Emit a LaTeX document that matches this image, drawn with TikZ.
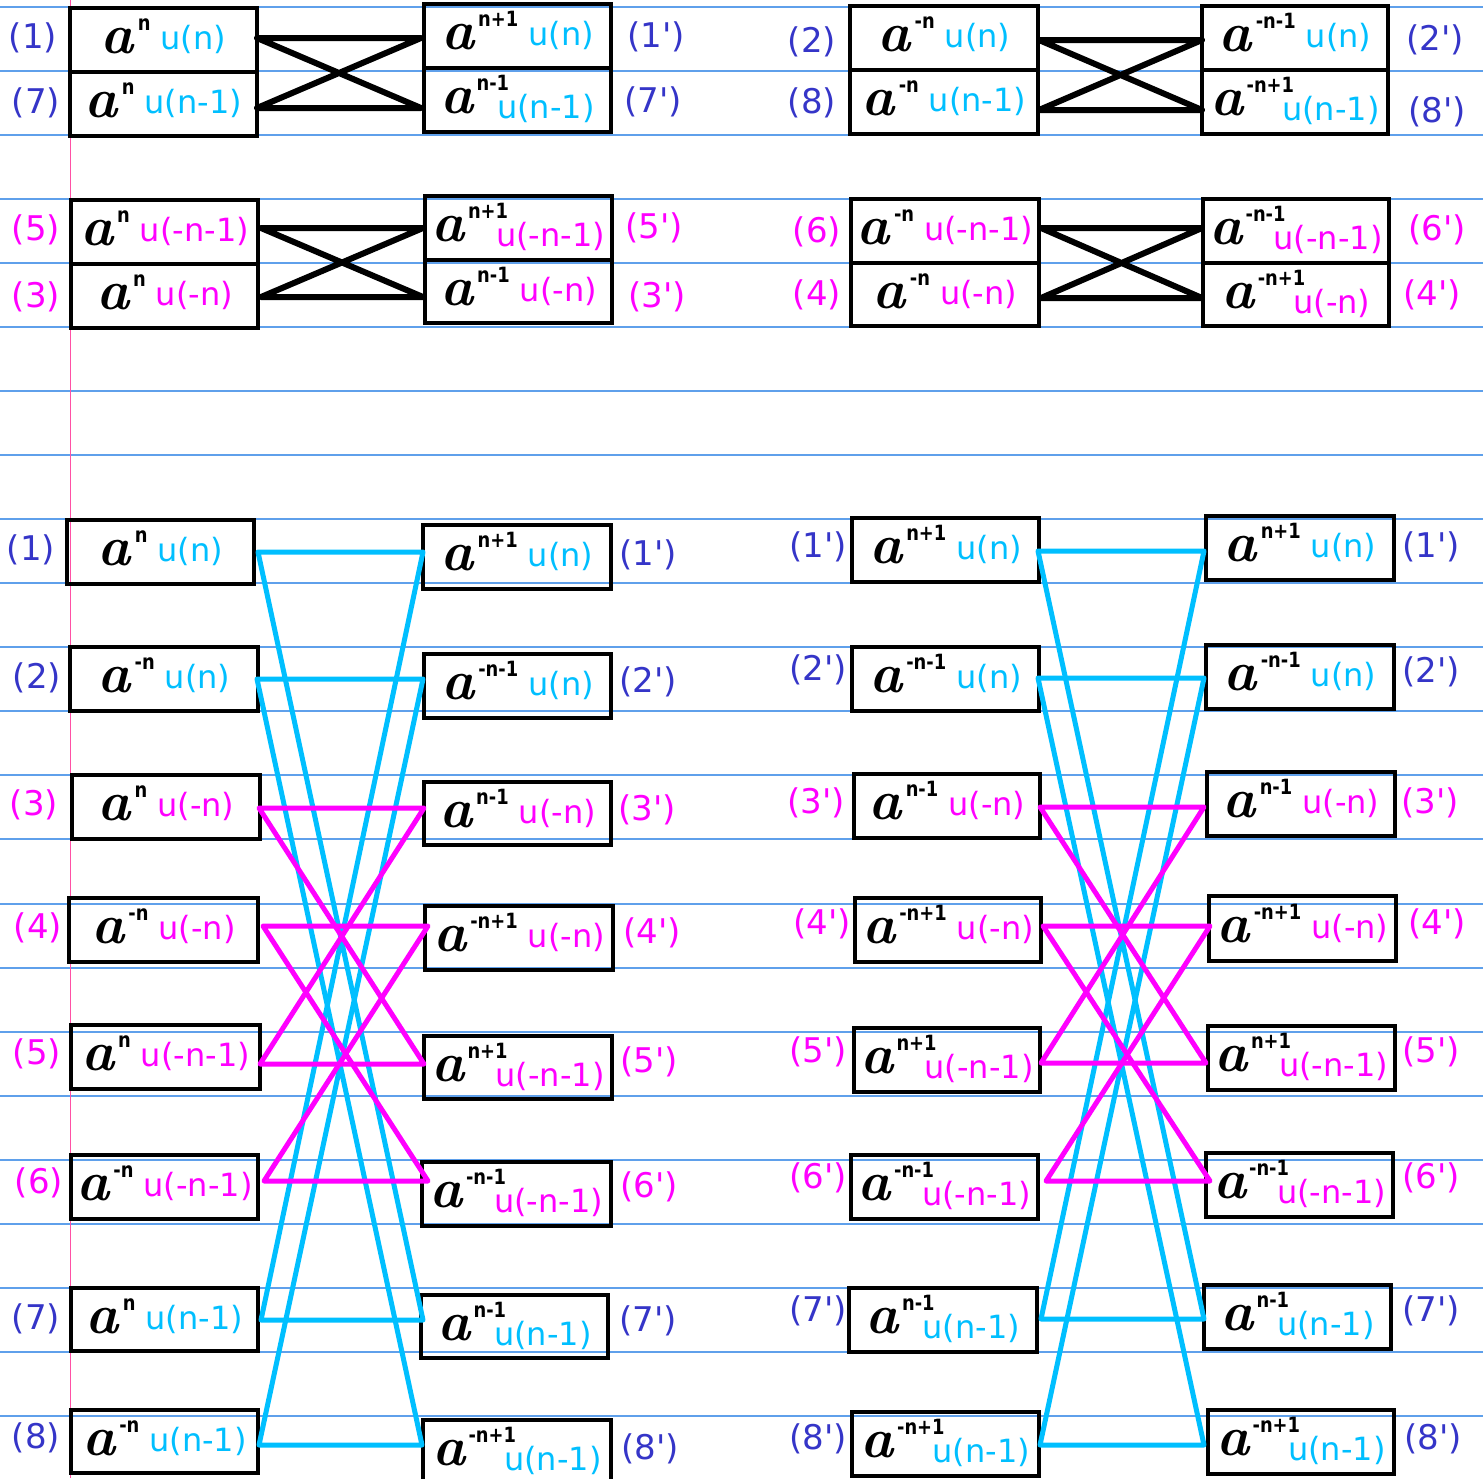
\documentclass[tikz,border=0pt]{standalone}
\usepackage{fontspec}
\newfontfamily\dvs{DejaVu Sans}
\definecolor{lblue}{RGB}{53,53,200}
\definecolor{cyanu}{RGB}{0,191,255}
\definecolor{magu}{RGB}{255,0,255}
\definecolor{paper}{RGB}{95,160,235}
\definecolor{marg}{RGB}{255,80,165}
\newcommand\ahand{{\fontsize{56}{56}\selectfont\bfseries\itshape a}}
\newcommand\supf[1]{{\fontsize{21}{21}\selectfont\dvs\bfseries\scalebox{0.85}[1]{#1}}}
\newcommand\ufont{\fontsize{32}{32}\selectfont\dvs}
\newcommand\ap{\textquotesingle}
\newcommand\cN[3]{\raisebox{0pt}[19pt][0pt]{\raisebox{-4pt}{\ahand}\hspace{4pt}\raisebox{19pt}{\supf{#1}}\hspace{10pt}{\color{#2}\ufont #3}}}
\newcommand\cL[3]{\raisebox{0pt}[19pt][0pt]{\raisebox{-4pt}{\ahand}\hspace{3pt}\raisebox{19pt}{\supf{#1}}\hspace{-12pt}\raisebox{-9pt}{\color{#2}\ufont #3}}}
\tikzset{
  cellbox/.style={draw=black,line width=4pt,inner sep=0pt,outer sep=0pt},
  labn/.style={inner sep=0pt,font=\fontsize{34}{34}\selectfont\dvs},
  paperline/.style={draw=paper,line width=2pt},
  marginline/.style={draw=marg,line width=1.8pt},
  blk/.style={draw=black,line width=6pt,line join=round,line cap=round},
  cyl/.style={draw=cyanu,line width=5pt,line join=round,line cap=round},
  mgl/.style={draw=magu,line width=5pt,line join=round,line cap=round}
}
\newcommand\bx[6]{\node[cellbox,minimum width={(#3-#2)*1pt},minimum height={(#5-#4)*1pt}] (#1) at ({(#2+#3)/2},{(#4+#5)/2}) {#6};}
\newcommand\lb[5]{\node[labn,text=#2] (#1) at (#3,#4) {#5};}
\begin{document}
\begin{tikzpicture}[x=1pt,y=-1pt]
\useasboundingbox (0,0) rectangle (1483,1478);
\fill[white] (0,0) rectangle (1483,1478);
% notebook paper
\foreach \k in {0,...,22} \draw[paperline] (0,{round(6.8+64.05*\k)}) -- (1483,{round(6.8+64.05*\k)});
\draw[marginline] (70.5,0) -- (70.5,1478);

% ---------- top-left block ----------
\bx{TL1}{70}{257}{8}{72}{\cN{n}{cyanu}{u(n)}}
\bx{TL7}{70}{257}{72}{136}{\cN{n}{cyanu}{u(n-1)}}
\bx{TR1}{424}{611}{4}{68}{\cN{n+1}{cyanu}{u(n)}}
\bx{TR7}{424}{611}{68}{132}{\cL{n-1}{cyanu}{u(n-1)}}
\lb{lTL1}{lblue}{33}{38}{(1)}
\lb{lTL7}{lblue}{36}{103}{(7)}
\lb{lTR1}{lblue}{656}{37}{(1\ap)}
\lb{lTR7}{lblue}{653}{102}{(7\ap)}
\coordinate (ta1) at (257,38); \coordinate (tb1) at (421,38);
\coordinate (ta7) at (257,108); \coordinate (tb7) at (421,108);
\draw[blk] (ta1) -- (tb1) -- (ta7) -- (tb7) -- cycle;

% ---------- middle-left block ----------
\bx{ML5}{71}{258}{200}{264}{\cN{n}{magu}{u(-n-1)}}
\bx{ML3}{71}{258}{264}{328}{\cN{n}{magu}{u(-n)}}
\bx{MR5}{425}{612}{196}{260}{\cL{n+1}{magu}{u(-n-1)}}
\bx{MR3}{425}{612}{260}{323}{\cN{n-1}{magu}{u(-n)}}
\lb{lML5}{magu}{36}{230}{(5)}
\lb{lML3}{magu}{36}{297}{(3)}
\lb{lMR5}{magu}{654}{228}{(5\ap)}
\lb{lMR3}{magu}{657}{297}{(3\ap)}
\coordinate (ma5) at (261,228); \coordinate (mb5) at (423,228);
\coordinate (ma3) at (261,297); \coordinate (mb3) at (423,297);
\draw[blk] (ma5) -- (mb5) -- (ma3) -- (mb3) -- cycle;

% ---------- top-right block ----------
\bx{UL2}{850}{1038}{6}{70}{\cN{-n}{cyanu}{u(n)}}
\bx{UL8}{850}{1038}{70}{134}{\cN{-n}{cyanu}{u(n-1)}}
\bx{UR2}{1202}{1388}{6}{70}{\cN{-n-1}{cyanu}{u(n)}}
\bx{UR8}{1202}{1388}{70}{134}{\cL{-n+1}{cyanu}{u(n-1)}}
\lb{lUL2}{lblue}{812}{42}{(2)}
\lb{lUL8}{lblue}{812}{103}{(8)}
\lb{lUR2}{lblue}{1435}{40}{(2\ap)}
\lb{lUR8}{lblue}{1437}{112}{(8\ap)}
\coordinate (ua2) at (1039,40); \coordinate (ub2) at (1202,40);
\coordinate (ua8) at (1039,110); \coordinate (ub8) at (1202,110);
\draw[blk] (ua2) -- (ub2) -- (ua8) -- (ub8) -- cycle;

% ---------- middle-right block ----------
\bx{VL6}{851}{1039}{199}{263}{\cN{-n}{magu}{u(-n-1)}}
\bx{VL4}{851}{1039}{263}{326}{\cN{-n}{magu}{u(-n)}}
\bx{VR6}{1203}{1389}{199}{263}{\cL{-n-1}{magu}{u(-n-1)}}
\bx{VR4}{1203}{1389}{263}{326}{\cL{-n+1}{magu}{u(-n)}}
\lb{lVL6}{magu}{817}{232}{(6)}
\lb{lVL4}{magu}{817}{295}{(4)}
\lb{lVR6}{magu}{1437}{230}{(6\ap)}
\lb{lVR4}{magu}{1432}{295}{(4\ap)}
\coordinate (va6) at (1041,228); \coordinate (vb6) at (1202,228);
\coordinate (va4) at (1041,298); \coordinate (vb4) at (1202,298);
\draw[blk] (va6) -- (vb6) -- (va4) -- (vb4) -- cycle;

% ---------- bottom-left butterfly ----------
\bx{BL1}{67}{254}{520}{584}{\cN{n}{cyanu}{u(n)}}
\bx{BR1}{423}{611}{525}{589}{\cN{n+1}{cyanu}{u(n)}}
\bx{BL2}{70}{258}{647}{711}{\cN{-n}{cyanu}{u(n)}}
\bx{BR2}{424}{611}{654}{718}{\cN{-n-1}{cyanu}{u(n)}}
\bx{BL3}{72}{260}{775}{839}{\cN{n}{magu}{u(-n)}}
\bx{BR3}{424}{611}{782}{845}{\cN{n-1}{magu}{u(-n)}}
\bx{BL4}{69}{258}{898}{962}{\cN{-n}{magu}{u(-n)}}
\bx{BR4}{425}{613}{906}{970}{\cN{-n+1}{magu}{u(-n)}}
\bx{BL5}{71}{260}{1025}{1089}{\cN{n}{magu}{u(-n-1)}}
\bx{BR5}{424}{612}{1036}{1099}{\cL{n+1}{magu}{u(-n-1)}}
\bx{BL6}{71}{258}{1155}{1219}{\cN{-n}{magu}{u(-n-1)}}
\bx{BR6}{422}{611}{1162}{1226}{\cL{-n-1}{magu}{u(-n-1)}}
\bx{BL7}{71}{258}{1288}{1351}{\cN{n}{cyanu}{u(n-1)}}
\bx{BR7}{421}{608}{1295}{1358}{\cL{n-1}{cyanu}{u(n-1)}}
\bx{BL8}{71}{258}{1410}{1473}{\cN{-n}{cyanu}{u(n-1)}}
\bx{BR8}{423}{611}{1420}{1484}{\cL{-n+1}{cyanu}{u(n-1)}}
\lb{lBL1}{lblue}{31}{550}{(1)}
\lb{lBR1}{lblue}{648}{555}{(1\ap)}
\lb{lBL2}{lblue}{37}{678}{(2)}
\lb{lBR2}{lblue}{648}{682}{(2\ap)}
\lb{lBL3}{magu}{34}{805}{(3)}
\lb{lBR3}{magu}{647}{810}{(3\ap)}
\lb{lBL4}{magu}{38}{928}{(4)}
\lb{lBR4}{magu}{652}{933}{(4\ap)}
\lb{lBL5}{magu}{37}{1054}{(5)}
\lb{lBR5}{magu}{649}{1062}{(5\ap)}
\lb{lBL6}{magu}{39}{1183}{(6)}
\lb{lBR6}{magu}{649}{1187}{(6\ap)}
\lb{lBL7}{lblue}{36}{1319}{(7)}
\lb{lBR7}{lblue}{648}{1321}{(7\ap)}
\lb{lBL8}{lblue}{36}{1438}{(8)}
\lb{lBR8}{lblue}{650}{1449}{(8\ap)}
\coordinate (pa1) at (258,552);  \coordinate (pb1) at (423,552);
\coordinate (pa2) at (257,679);  \coordinate (pb2) at (423,679);
\coordinate (pa3) at (259,808);  \coordinate (pb3) at (424,808);
\coordinate (pa4) at (263,926);  \coordinate (pb4) at (428,926);
\coordinate (pa5) at (260,1064); \coordinate (pb5) at (424,1064);
\coordinate (pa6) at (264,1181); \coordinate (pb6) at (428,1181);
\coordinate (pa7) at (261,1320); \coordinate (pb7) at (423,1320);
\coordinate (pa8) at (259,1445); \coordinate (pb8) at (422,1445);
\draw[cyl] (pa1) -- (pb1) -- (pa7) -- (pb7) -- cycle;
\draw[cyl] (pa2) -- (pb2) -- (pa8) -- (pb8) -- cycle;
\draw[mgl] (pa3) -- (pb3) -- (pa5) -- (pb5) -- cycle;
\draw[mgl] (pa4) -- (pb4) -- (pa6) -- (pb6) -- cycle;

% ---------- bottom-right butterfly ----------
\bx{CL1}{852}{1039}{518}{582}{\cN{n+1}{cyanu}{u(n)}}
\bx{CR1}{1206}{1394}{516}{580}{\cN{n+1}{cyanu}{u(n)}}
\bx{CL2}{852}{1039}{647}{711}{\cN{-n-1}{cyanu}{u(n)}}
\bx{CR2}{1206}{1394}{645}{709}{\cN{-n-1}{cyanu}{u(n)}}
\bx{CL3}{854}{1040}{774}{838}{\cN{n-1}{magu}{u(-n)}}
\bx{CR3}{1207}{1395}{772}{836}{\cN{n-1}{magu}{u(-n)}}
\bx{CL4}{855}{1041}{898}{962}{\cN{-n+1}{magu}{u(-n)}}
\bx{CR4}{1209}{1396}{896}{961}{\cN{-n+1}{magu}{u(-n)}}
\bx{CL5}{854}{1040}{1028}{1092}{\cL{n+1}{magu}{u(-n-1)}}
\bx{CR5}{1208}{1395}{1026}{1090}{\cL{n+1}{magu}{u(-n-1)}}
\bx{CL6}{851}{1038}{1155}{1219}{\cL{-n-1}{magu}{u(-n-1)}}
\bx{CR6}{1206}{1393}{1153}{1217}{\cL{-n-1}{magu}{u(-n-1)}}
\bx{CL7}{849}{1037}{1288}{1352}{\cL{n-1}{cyanu}{u(n-1)}}
\bx{CR7}{1204}{1391}{1285}{1349}{\cL{n-1}{cyanu}{u(n-1)}}
\bx{CL8}{852}{1039}{1412}{1476}{\cL{-n+1}{cyanu}{u(n-1)}}
\bx{CR8}{1208}{1394}{1410}{1474}{\cL{-n+1}{cyanu}{u(n-1)}}
\lb{lCL1}{lblue}{818}{547}{(1\ap)}
\lb{lCR1}{lblue}{1431}{547}{(1\ap)}
\lb{lCL2}{lblue}{818}{670}{(2\ap)}
\lb{lCR2}{lblue}{1431}{672}{(2\ap)}
\lb{lCL3}{magu}{816}{803}{(3\ap)}
\lb{lCR3}{magu}{1430}{803}{(3\ap)}
\lb{lCL4}{magu}{822}{924}{(4\ap)}
\lb{lCR4}{magu}{1437}{924}{(4\ap)}
\lb{lCL5}{magu}{818}{1052}{(5\ap)}
\lb{lCR5}{magu}{1431}{1052}{(5\ap)}
\lb{lCL6}{magu}{818}{1178}{(6\ap)}
\lb{lCR6}{magu}{1431}{1178}{(6\ap)}
\lb{lCL7}{lblue}{818}{1311}{(7\ap)}
\lb{lCR7}{lblue}{1431}{1311}{(7\ap)}
\lb{lCL8}{lblue}{818}{1439}{(8\ap)}
\lb{lCR8}{lblue}{1433}{1439}{(8\ap)}
\coordinate (qa1) at (1038,551);  \coordinate (qb1) at (1204,551);
\coordinate (qa2) at (1038,678);  \coordinate (qb2) at (1204,678);
\coordinate (qa3) at (1040,807);  \coordinate (qb3) at (1204,807);
\coordinate (qa4) at (1043,926);  \coordinate (qb4) at (1210,926);
\coordinate (qa5) at (1041,1063); \coordinate (qb5) at (1206,1063);
\coordinate (qa6) at (1046,1181); \coordinate (qb6) at (1210,1181);
\coordinate (qa7) at (1041,1319); \coordinate (qb7) at (1204,1319);
\coordinate (qa8) at (1040,1445); \coordinate (qb8) at (1204,1445);
\draw[cyl] (qa1) -- (qb1) -- (qa7) -- (qb7) -- cycle;
\draw[cyl] (qa2) -- (qb2) -- (qa8) -- (qb8) -- cycle;
\draw[mgl] (qa3) -- (qb3) -- (qa5) -- (qb5) -- cycle;
\draw[mgl] (qa4) -- (qb4) -- (qa6) -- (qb6) -- cycle;
\end{tikzpicture}
\end{document}
